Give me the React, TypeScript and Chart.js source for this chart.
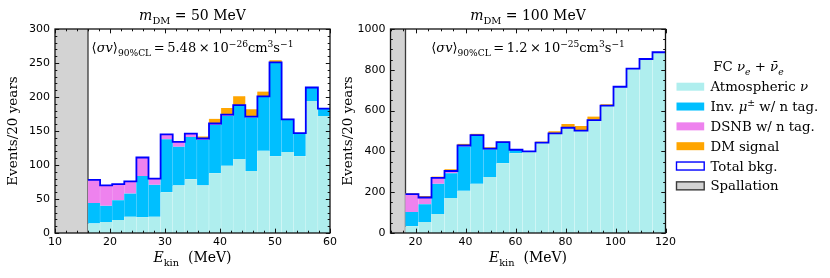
import React, { useEffect, useRef } from 'react';
import { Chart, registerables } from 'chart.js';

Chart.register(...registerables);

// ---------------- data ----------------
const leftBinEdges = [16, 18.2, 20.4, 22.6, 24.8, 27, 29.2, 31.4, 33.6, 35.8, 38, 40.2, 42.4, 44.6, 46.8, 49, 51.2, 53.4, 55.6, 57.8, 60];
const leftAtmospheric = [14, 16, 19, 24, 23, 24, 60, 70, 79, 70, 88, 99, 109, 91, 121, 113, 119, 113, 194, 172];
const leftInvMuon = [30, 24, 29, 34, 61, 47, 78, 57, 62, 67, 71, 73, 78, 79, 79, 137, 47, 34, 20, 11];
const leftDSNB = [34, 30, 24, 18, 27, 9, 7, 7, 5, 2, 2, 2, 1, 1, 1, 1, 1, 0, 0, 0];
const leftDMSignal = [0, 0, 0, 0, 0, 0, 0, 0, 0, 3, 7, 10, 13, 11, 7, 3, 1, 0, 0, 0];

const rightBinEdges = [16, 21.2, 26.4, 31.6, 36.8, 42, 47.2, 52.4, 57.6, 62.8, 68, 73.2, 78.4, 83.6, 88.8, 94, 99.2, 104.4, 109.6, 114.8, 120];
const rightAtmospheric = [33, 54, 93, 171, 207, 241, 275, 342, 391, 400, 443, 488, 516, 502, 553, 624, 717, 806, 853, 886];
const rightInvMuon = [70, 87, 148, 122, 217, 236, 136, 101, 16, 0, 0, 0, 0, 0, 0, 0, 0, 0, 0, 0];
const rightDSNB = [88, 33, 29, 11, 5, 3, 3, 2, 1, 0, 0, 0, 0, 0, 0, 0, 0, 0, 0, 0];
const rightDMSignal = [4, 7, 7, 9, 8, 7, 6, 4, 4, 2, 5, 11, 18, 22, 18, 7, 4, 1, 1, 2];

const leftXTicks = [10, 20, 30, 40, 50, 60];
const leftYTicks = [0, 50, 100, 150, 200, 250, 300];
const rightXTicks = [20, 40, 60, 80, 100, 120];
const rightYTicks = [0, 200, 400, 600, 800, 1000];

const spallationRange = [10, 16];
const dmMasses = ['50', '100'];
const sigmaMantissas = ['5.48', '1.2'];
const sigmaExponents = ['\u221226', '\u221225'];

const seriesLabels = ['Atmospheric \u03bd', 'Inv. \u03bc\u00b1 w/ n tag.', 'DSNB w/ n tag.', 'DM signal', 'Total bkg.', 'Spallation'];
const yAxisTitle = 'Events/20 years';

// ---------------- styles ----------------
const COLORS = {
  atm: '#AFEEEE',
  atmEdge: '#DDF8F8',
  inv: '#00BFFF',
  invEdge: '#6FD6FF',
  dsnb: '#EE82EE',
  dsnbEdge: '#F5B5F5',
  dm: '#FFA500',
  dmEdge: '#FFC660',
  total: '#0000FF',
  spall: '#D3D3D3',
  spallEdge: '#3a3a3a',
};
const SERIF = '"DejaVu Serif", serif';
const SANS = '"DejaVu Sans", sans-serif';

type Seg = { t: string; it?: boolean; sub?: boolean; sup?: boolean };

function segFont(s: Seg, size: number) {
  const sz = s.sub || s.sup ? size * 0.7 : size;
  return `${s.it ? 'italic ' : ''}${sz}px ${SERIF}`;
}
function richWidth(ctx: CanvasRenderingContext2D, segs: Seg[], size: number) {
  let w = 0;
  for (const s of segs) {
    ctx.font = segFont(s, size);
    w += ctx.measureText(s.t).width;
  }
  return w;
}
function drawRich(ctx: CanvasRenderingContext2D, segs: Seg[], x: number, y: number, size: number, align: 'center' | 'left' = 'center') {
  ctx.save();
  ctx.fillStyle = '#000';
  ctx.textBaseline = 'alphabetic';
  ctx.textAlign = 'left';
  let cx = align === 'center' ? x - richWidth(ctx, segs, size) / 2 : x;
  for (const s of segs) {
    ctx.font = segFont(s, size);
    const dy = s.sub ? size * 0.28 : s.sup ? -size * 0.42 : 0;
    ctx.fillText(s.t, cx, y + dy);
    cx += ctx.measureText(s.t).width;
  }
  ctx.restore();
}
// Greek letters italic, ± as superscript
function labelSegs(str: string): Seg[] {
  const out: Seg[] = [];
  for (const ch of Array.from(str)) {
    const greek = /[\u0370-\u03ff]/.test(ch);
    const sup = ch === '\u00b1';
    const last = out[out.length - 1];
    if (last && !!last.it === greek && !!last.sup === sup) last.t += ch;
    else out.push({ t: ch, it: greek || undefined, sup: sup || undefined });
  }
  return out;
}

interface Panel {
  edges: number[];
  atm: number[];
  inv: number[];
  dsnb: number[];
  dm: number[];
  xMin: number;
  xMax: number;
  xTicks: number[];
  xMinor: number;
  yMax: number;
  yTicks: number[];
  yMinor: number;
  mass: string;
  mantissa: string;
  exponent: string;
  canvasWidth: number;
  left: number;
  yAxisWidth: number;
  padRight: number;
  yTitlePad: number;
  legend: boolean;
}

const panels: Panel[] = [
  {
    edges: leftBinEdges, atm: leftAtmospheric, inv: leftInvMuon, dsnb: leftDSNB, dm: leftDMSignal,
    xMin: 10, xMax: 60, xTicks: leftXTicks, xMinor: 2, yMax: 300, yTicks: leftYTicks, yMinor: 10,
    mass: dmMasses[0], mantissa: sigmaMantissas[0], exponent: sigmaExponents[0],
    canvasWidth: 340, left: 0, yAxisWidth: 55, padRight: 9.5, yTitlePad: 5.8, legend: false,
  },
  {
    edges: rightBinEdges, atm: rightAtmospheric, inv: rightInvMuon, dsnb: rightDSNB, dm: rightDMSignal,
    xMin: 10, xMax: 120, xTicks: rightXTicks, xMinor: 5, yMax: 1000, yTicks: rightYTicks, yMinor: 50,
    mass: dmMasses[1], mantissa: sigmaMantissas[1], exponent: sigmaExponents[1],
    canvasWidth: 490, left: 340, yAxisWidth: 50.5, padRight: 164.5, yTitlePad: 0, legend: true,
  },
];

function makeDecor(p: Panel) {
  return {
    id: 'decor',
    beforeDatasetsDraw(chart: any) {
      const { ctx, chartArea: a, scales } = chart;
      const x0 = scales.x.getPixelForValue(spallationRange[0]);
      const x1 = scales.x.getPixelForValue(spallationRange[1]);
      ctx.save();
      ctx.fillStyle = COLORS.spall;
      ctx.fillRect(x0, a.top, x1 - x0, a.bottom - a.top);
      ctx.strokeStyle = COLORS.spallEdge;
      ctx.lineWidth = 1.3;
      ctx.beginPath();
      ctx.moveTo(x1, a.top);
      ctx.lineTo(x1, a.bottom);
      ctx.stroke();
      ctx.restore();
    },
    afterDraw(chart: any) {
      const { ctx, chartArea: a, scales } = chart;
      const xs = scales.x;
      const ys = scales.y;
      ctx.save();
      // ticks (inward, all four sides)
      ctx.strokeStyle = '#111';
      ctx.lineWidth = 1;
      const majLen = 4.2;
      const minLen = 2.3;
      const near = (v: number, arr: number[]) => arr.some((m) => Math.abs(m - v) < 1e-6);
      ctx.beginPath();
      for (let v = p.xMin; v <= p.xMax + 1e-6; v += p.xMinor) {
        const len = near(v, p.xTicks) ? majLen : minLen;
        const px = Math.round(xs.getPixelForValue(v)) + 0.5;
        ctx.moveTo(px, a.bottom);
        ctx.lineTo(px, a.bottom - len);
        ctx.moveTo(px, a.top);
        ctx.lineTo(px, a.top + len);
      }
      for (const v of p.xTicks) {
        const px = Math.round(xs.getPixelForValue(v)) + 0.5;
        ctx.moveTo(px, a.bottom);
        ctx.lineTo(px, a.bottom - majLen);
        ctx.moveTo(px, a.top);
        ctx.lineTo(px, a.top + majLen);
      }
      for (let v = 0; v <= p.yMax + 1e-6; v += p.yMinor) {
        const len = near(v, p.yTicks) ? majLen : minLen;
        const py = Math.round(ys.getPixelForValue(v)) + 0.5;
        ctx.moveTo(a.left, py);
        ctx.lineTo(a.left + len, py);
        ctx.moveTo(a.right, py);
        ctx.lineTo(a.right - len, py);
      }
      ctx.stroke();
      // frame
      ctx.lineWidth = 1.3;
      ctx.strokeStyle = '#111';
      ctx.strokeRect(a.left, a.top, a.right - a.left, a.bottom - a.top);
      ctx.restore();

      const cx = (a.left + a.right) / 2;
      // panel title
      drawRich(ctx, [{ t: 'm', it: true }, { t: 'DM', sub: true }, { t: ` = ${p.mass} MeV` }], cx, 20, 14);
      // cross-section annotation
      drawRich(
        ctx,
        [
          { t: '\u27e8' }, { t: '\u03c3v', it: true }, { t: '\u27e9' }, { t: '90%CL', sub: true },
          { t: `\u2009=\u2009${p.mantissa}\u2009\u00d7\u200910` }, { t: p.exponent, sup: true },
          { t: 'cm' }, { t: '3', sup: true }, { t: 's' }, { t: '\u22121', sup: true },
        ],
        cx, 52, 13,
      );
      // x-axis title
      drawRich(ctx, [{ t: 'E', it: true }, { t: 'kin', sub: true }, { t: '  (MeV)' }], cx, 262, 14);

      if (p.legend) {
        const boxL = a.right + 11;
        const boxW = 27.7;
        const boxH = 8;
        const textX = boxL + 34;
        drawRich(
          ctx,
          [{ t: 'FC ' }, { t: '\u03bd', it: true }, { t: 'e', it: true, sub: true }, { t: ' + ' }, { t: '\u03bd\u0304', it: true }, { t: 'e', it: true, sub: true }],
          boxL + 72, 71, 13.3,
        );
        const ds = chart.data.datasets;
        const entries = [
          ...ds.map((d: any) => ({ label: d.label, fill: d.type === 'line' ? '#fff' : d.backgroundColor, stroke: d.type === 'line' ? d.borderColor : null })),
          { label: seriesLabels[5], fill: COLORS.spall, stroke: COLORS.spallEdge },
        ];
        entries.forEach((e: any, i: number) => {
          const cy = 86.7 + i * 19.83;
          ctx.save();
          ctx.fillStyle = e.fill;
          ctx.fillRect(boxL, cy - boxH / 2, boxW, boxH);
          if (e.stroke) {
            ctx.strokeStyle = e.stroke;
            ctx.lineWidth = 1.4;
            ctx.strokeRect(boxL, cy - boxH / 2, boxW, boxH);
          }
          ctx.restore();
          drawRich(ctx, labelSegs(e.label), textX, cy + 4.6, 13.3, 'left');
        });
      }
    },
  };
}

function buildConfig(p: Panel): any {
  const centers = p.edges.slice(0, -1).map((e, i) => (e + p.edges[i + 1]) / 2);
  const total = p.atm.map((v, i) => v + p.inv[i] + p.dsnb[i]);
  const stepPts = p.edges.map((e, i) => ({ x: e, y: total[Math.min(i, total.length - 1)] }));
  const bar = (label: string, vals: number[], bg: string, edge: string) => ({
    type: 'bar',
    label,
    data: centers.map((c, i) => ({ x: c, y: vals[i] })),
    backgroundColor: bg,
    borderColor: edge,
    borderWidth: { left: 0.5, right: 0.5, top: 0, bottom: 0 },
    borderSkipped: false,
    stack: 'bkg',
    categoryPercentage: 1,
    barPercentage: 1,
  });
  const tickFont = { family: SANS, size: 11 };
  return {
    type: 'bar',
    data: {
      datasets: [
        bar(seriesLabels[0], p.atm, COLORS.atm, COLORS.atmEdge),
        bar(seriesLabels[1], p.inv, COLORS.inv, COLORS.invEdge),
        bar(seriesLabels[2], p.dsnb, COLORS.dsnb, COLORS.dsnbEdge),
        bar(seriesLabels[3], p.dm, COLORS.dm, COLORS.dmEdge),
        {
          type: 'line',
          label: seriesLabels[4],
          data: stepPts,
          borderColor: COLORS.total,
          backgroundColor: '#fff',
          borderWidth: 1.8,
          pointRadius: 0,
          stepped: true,
          fill: false,
          stack: 'line',
          order: -1,
        },
      ],
    },
    options: {
      animation: false,
      responsive: false,
      devicePixelRatio: 1,
      layout: { padding: { left: 0, right: p.padRight, top: 29, bottom: 0 } },
      plugins: { legend: { display: false }, tooltip: { enabled: false }, title: { display: false } },
      scales: {
        x: {
          type: 'linear',
          min: p.xMin,
          max: p.xMax,
          offset: false,
          grid: { display: false, drawTicks: false, offset: false },
          border: { display: false },
          ticks: { font: tickFont, color: '#000', padding: 3, maxRotation: 0, autoSkip: false, callback: (v: number) => String(v) },
          afterBuildTicks: (s: any) => { s.ticks = p.xTicks.map((v) => ({ value: v })); },
          afterFit: (s: any) => { s.height = 45; },
        },
        y: {
          type: 'linear',
          stacked: true,
          min: 0,
          max: p.yMax,
          grid: { display: false, drawTicks: false },
          border: { display: false },
          ticks: { font: tickFont, color: '#000', padding: 5, autoSkip: false, callback: (v: number) => String(v) },
          afterBuildTicks: (s: any) => { s.ticks = p.yTicks.map((v) => ({ value: v })); },
          afterFit: (s: any) => { s.width = p.yAxisWidth; },
          title: { display: true, text: yAxisTitle, color: '#000', font: { family: SERIF, size: 13.5 }, padding: { top: p.yTitlePad, bottom: 0 } },
        },
      },
    },
    plugins: [makeDecor(p)],
  };
}

function PanelChart({ p }: { p: Panel }) {
  const ref = useRef<HTMLCanvasElement | null>(null);
  useEffect(() => {
    if (!ref.current) return;
    const chart = new Chart(ref.current, buildConfig(p));
    return () => chart.destroy();
  }, [p]);
  return (
    <div style={{ position: 'absolute', left: p.left, top: 0, width: p.canvasWidth, height: 278 }}>
      <canvas ref={ref} width={p.canvasWidth} height={278} style={{ width: p.canvasWidth, height: 278, display: 'block' }} />
    </div>
  );
}

export default function App() {
  return (
    <div style={{ position: 'fixed', left: 0, top: 0, width: 830, height: 278, background: '#fff', overflow: 'hidden' }}>
      {panels.map((p, i) => (
        <PanelChart key={i} p={p} />
      ))}
    </div>
  );
}
